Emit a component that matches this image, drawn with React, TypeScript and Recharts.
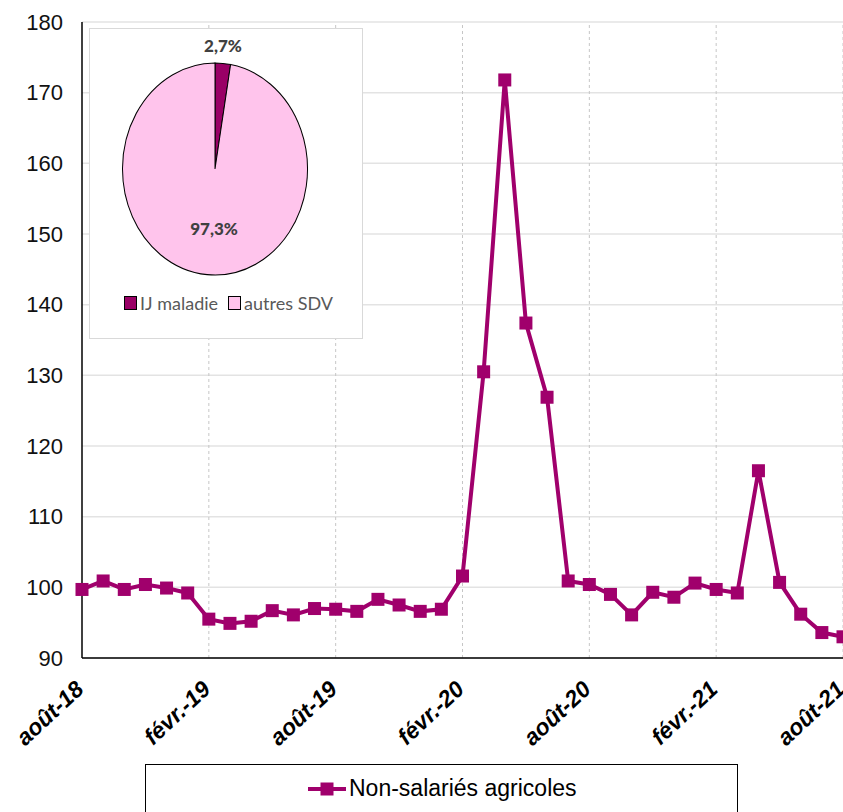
import React from "react";
import {
  CartesianGrid,
  Cell,
  Line,
  LineChart,
  Pie,
  PieChart,
  ReferenceLine,
  XAxis,
  YAxis,
} from "recharts";

const months = [
  "août-18", "sept.-18", "oct.-18", "nov.-18", "déc.-18", "janv.-19",
  "févr.-19", "mars-19", "avr.-19", "mai-19", "juin-19", "juil.-19",
  "août-19", "sept.-19", "oct.-19", "nov.-19", "déc.-19", "janv.-20",
  "févr.-20", "mars-20", "avr.-20", "mai-20", "juin-20", "juil.-20",
  "août-20", "sept.-20", "oct.-20", "nov.-20", "déc.-20", "janv.-21",
  "févr.-21", "mars-21", "avr.-21", "mai-21", "juin-21", "juil.-21",
  "août-21",
];

const nonSalaries = [
  99.7, 100.9, 99.7, 100.4, 99.9, 99.2,
  95.5, 94.9, 95.2, 96.7, 96.1, 97.0,
  96.9, 96.6, 98.3, 97.5, 96.6, 96.9,
  101.6, 130.5, 171.8, 137.4, 126.9, 100.9,
  100.4, 99.0, 96.1, 99.3, 98.6, 100.6,
  99.7, 99.2, 116.5, 100.7, 96.2, 93.6,
  93.0,
];

const yTicks = [90, 100, 110, 120, 130, 140, 150, 160, 170, 180];
const gridMonths = ["févr.-19", "août-19", "févr.-20", "août-20", "févr.-21", "août-21"];

const pieNames = ["IJ maladie", "autres SDV"];
const pieValues = [2.7, 97.3];
const pieColors = ["#990066", "#FFC4EC"];

const lineColor = "#A0006C";

const rows = months.map((month, i) => ({ month, value: nonSalaries[i] }));
const pieRows = pieNames.map((name, i) => ({ name, value: pieValues[i] }));

const fmtPct = (v: number) => v.toFixed(1).replace(".", ",") + "%";

function SquareDot(props: any) {
  const { cx, cy, index } = props;
  if (cx == null || cy == null) return null;
  return <rect key={index} x={cx - 6.5} y={cy - 6.5} width={13} height={13} fill={lineColor} />;
}

function renderMonthTick(props: any) {
  const { x, y, payload, index } = props;
  return (
    <g key={index} transform={`translate(${x + 3},${y + 31})`}>
      <text
        x={0}
        y={0}
        transform="rotate(-43)"
        textAnchor="end"
        fontSize={23}
        fontWeight="bold"
        fontStyle="italic"
        fill="#000"
      >
        {payload.value}
      </text>
    </g>
  );
}

function PieInset() {
  return (
    <div
      style={{
        position: "absolute",
        left: 89,
        top: 28,
        width: 272,
        height: 309,
        border: "1px solid #d9d9d9",
        background: "#fff",
        fontFamily: "Lato, 'Open Sans', sans-serif",
      }}
    >
      <div
        style={{
          position: "absolute",
          left: 125 - 96,
          top: 139.5 - 96,
          width: 192,
          height: 192,
          transform: "scaleY(1.146)",
          transformOrigin: "50% 50%",
        }}
      >
        <PieChart width={192} height={192} margin={{ top: 0, right: 0, bottom: 0, left: 0 }}>
          <Pie
            data={pieRows}
            dataKey="value"
            cx={96}
            cy={96}
            outerRadius={92.5}
            startAngle={90}
            endAngle={-270}
            stroke="#000"
            strokeWidth={1}
            isAnimationActive={false}
          >
            {pieRows.map((r, i) => (
              <Cell key={r.name} fill={pieColors[i]} />
            ))}
          </Pie>
        </PieChart>
      </div>
      <div style={{ position: "absolute", left: 133 - 40, top: 6, width: 80, textAlign: "center", fontWeight: 900, fontSize: 17, color: "#404040" }}>
        {fmtPct(pieValues[0])}
      </div>
      <div style={{ position: "absolute", left: 124 - 40, top: 189, width: 80, textAlign: "center", fontWeight: 900, fontSize: 17, color: "#404040" }}>
        {fmtPct(pieValues[1])}
      </div>
      <div
        style={{
          position: "absolute",
          left: 34,
          top: 263,
          display: "flex",
          alignItems: "center",
          fontSize: 18,
          color: "#595959",
          whiteSpace: "nowrap",
        }}
      >
        {pieRows.map((r, i) => (
          <span key={r.name} style={{ display: "flex", alignItems: "center", marginRight: 10 }}>
            <span
              style={{
                display: "inline-block",
                width: 11,
                height: 12,
                background: pieColors[i],
                border: "1px solid #000",
                marginRight: 3,
              }}
            />
            {r.name}
          </span>
        ))}
      </div>
    </div>
  );
}

export default function App() {
  return (
    <div
      style={{
        position: "absolute",
        left: 0,
        top: 0,
        width: 843,
        height: 812,
        overflow: "hidden",
        background: "#fff",
        fontFamily: "'Liberation Sans', Arial, sans-serif",
      }}
    >
      <LineChart width={843} height={812} data={rows} margin={{ top: 22, right: 0, bottom: 0, left: 0 }}>
        <CartesianGrid vertical={false} stroke="#e3e3e3" strokeWidth={1.5} />
        {gridMonths.map((m) => (
          <ReferenceLine key={m} x={m} stroke="#c6c6c6" strokeDasharray="3 3" />
        ))}
        <XAxis
          dataKey="month"
          interval={5}
          height={154}
          tickLine={false}
          tickSize={0}
          axisLine={{ stroke: "#000", strokeWidth: 1.5 }}
          tick={renderMonthTick}
        />
        <YAxis
          width={82}
          domain={[90, 180]}
          ticks={yTicks}
          tickLine={false}
          tickSize={0}
          tickMargin={19}
          axisLine={{ stroke: "#000", strokeWidth: 1.5 }}
          tick={{ fontSize: 22, fill: "#111" }}
        />
        <Line
          dataKey="value"
          stroke={lineColor}
          strokeWidth={4}
          dot={<SquareDot />}
          isAnimationActive={false}
        />
      </LineChart>
      <PieInset />
      <div
        style={{
          position: "absolute",
          left: 145,
          top: 764,
          width: 591,
          height: 80,
          border: "1.5px solid #000",
          background: "#fff",
        }}
      >
        <div style={{ position: "absolute", left: 161, top: 10, display: "flex", alignItems: "center" }}>
          <svg width={40} height={20}>
            <line x1={1} y1={10} x2={39} y2={10} stroke={lineColor} strokeWidth={4} />
            <rect x={13.5} y={3.5} width={13} height={13} fill={lineColor} />
          </svg>
          <span style={{ fontSize: 23, color: "#000", marginLeft: 2 }}>Non-salariés agricoles</span>
        </div>
      </div>
    </div>
  );
}
